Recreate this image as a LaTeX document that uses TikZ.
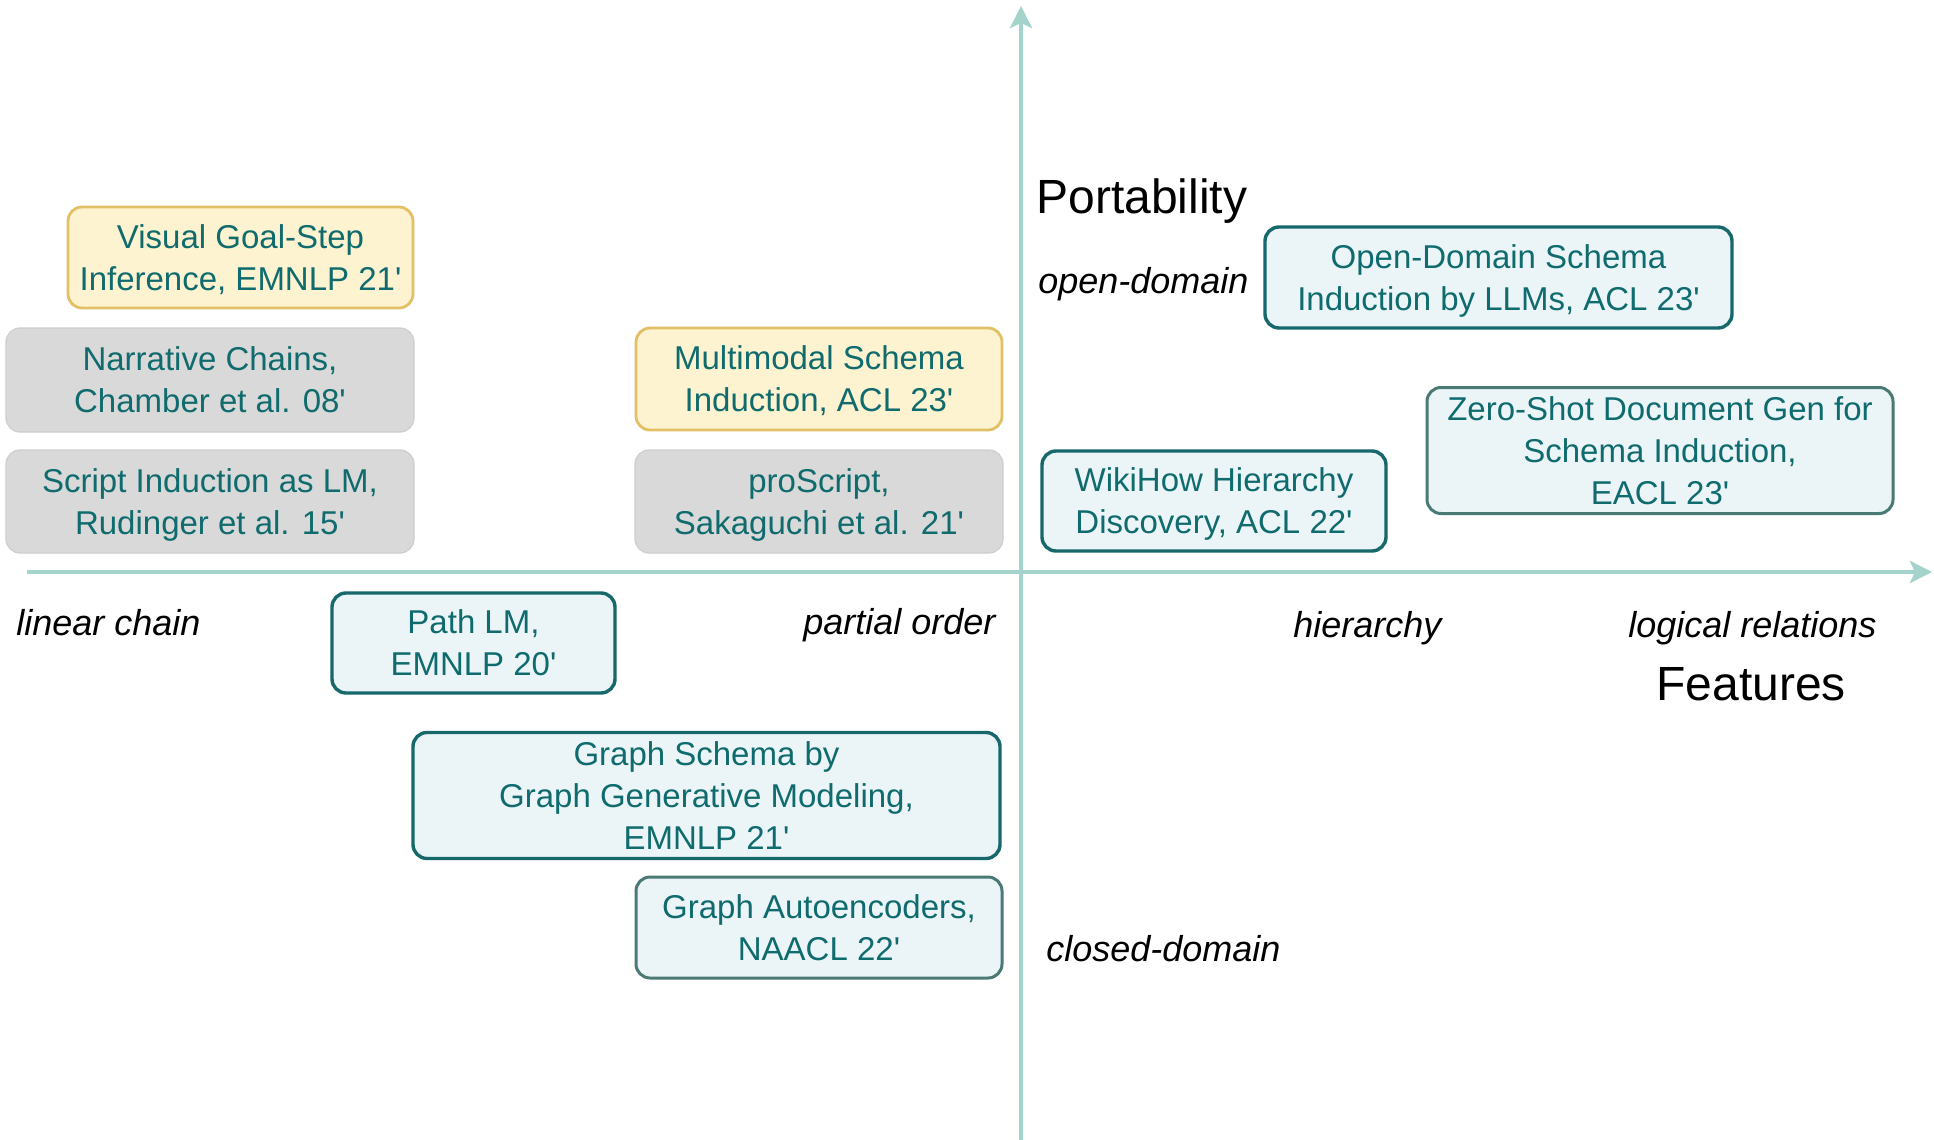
\documentclass[tikz,border=0pt]{standalone}
\usepackage{fontspec}
\setmainfont{Liberation Sans}
\newfontfamily\boxfont{Liberation Sans}
\usetikzlibrary{arrows.meta}
\definecolor{axiscol}{HTML}{A3D3CB}
\definecolor{tealtext}{HTML}{0F6B6D}
\definecolor{tealborder}{HTML}{17686B}
\definecolor{grayborder}{HTML}{4A7A73}
\definecolor{bluefill}{HTML}{EBF5F8}
\definecolor{yellowfill}{HTML}{FDF3D0}
\definecolor{yellowborder}{HTML}{E3C065}
\definecolor{grayfill}{HTML}{D9D9D9}
\newcommand\boxtext[1]{\raisebox{-1.6pt}[\height][\depth]{\begin{tabular}{@{}c@{}}#1\end{tabular}}}
\tikzset{
  basebox/.style={rounded corners=7pt, inner sep=0pt, text=tealtext,
    font=\boxfont\fontsize{16.5}{21}\selectfont},
  bluebox/.style={basebox, draw=tealborder, line width=1.7pt, fill=bluefill},
  dullbox/.style={basebox, draw=grayborder, line width=1.5pt, fill=bluefill},
  yellowbox/.style={basebox, draw=yellowborder, line width=1.4pt, fill=yellowfill},
  graybox/.style={basebox, draw=grayfill!95!black, line width=0.6pt, fill=grayfill},
  axis/.style={draw=axiscol, line width=2pt, -{Stealth[length=11pt,width=11pt,inset=2.5pt]}},
  ilabel/.style={font=\fontsize{18}{20}\selectfont\itshape, inner sep=0pt, anchor=west},
  tlabel/.style={font=\fontsize{24}{26}\selectfont, inner sep=0pt, anchor=west}
}
\begin{document}
\begin{tikzpicture}[x=0.5pt,y=-0.5pt]
\fill[white] (0,0) rectangle (1934,1140);
\useasboundingbox (0,0) rectangle (1934,1140);

% axes
\coordinate (ybot) at (1021,1140);
\coordinate (ytop) at (1021,6);
\coordinate (xleft) at (27,572);
\coordinate (xright) at (1932,572);
\draw[axis] (ybot) -- (ytop);
\draw[axis] (xleft) -- (xright);

% axis labels
\node[tlabel] (port) at (1036,201) {Portability};
\node[ilabel] (open) at (1038,284) {open-domain};
\node[ilabel] (closed) at (1046,949) {closed-domain};
\node[ilabel] (lin) at (16,623) {linear chain};
\node[ilabel] (part) at (803,625) {partial order};
\node[ilabel] (hier) at (1293,628) {hierarchy};
\node[ilabel] (logic) at (1628,628) {logical relations};
\node[tlabel] (feat) at (1656,684) {Features};

% boxes
\node[yellowbox, minimum width=172.5pt, minimum height=50.5pt] (vis) at (240.5,257.5)
  {\boxtext{Visual Goal-Step\\Inference, EMNLP 21'}};
\node[graybox, minimum width=204pt, minimum height=52pt] (nar) at (210,380)
  {\boxtext{Narrative Chains,\\Chamber et al. 08'}};
\node[graybox, minimum width=204pt, minimum height=51.5pt] (scr) at (210,501.5)
  {\boxtext{Script Induction as LM,\\Rudinger et al. 15'}};
\node[yellowbox, minimum width=183pt, minimum height=51pt] (mm) at (819,379)
  {\boxtext{Multimodal Schema\\Induction, ACL 23'}};
\node[graybox, minimum width=184pt, minimum height=51.5pt] (pro) at (819,501.5)
  {\boxtext{proScript,\\Sakaguchi et al. 21'}};
\node[bluebox, minimum width=233.5pt, minimum height=50.5pt] (od) at (1498.5,277.5)
  {\boxtext{Open-Domain Schema\\Induction by LLMs, ACL 23'}};
\node[dullbox, minimum width=233pt, minimum height=60.5pt] (zs) at (1660,450.5)
  {\boxtext{Zero-Shot Document Gen for\\Schema Induction,\\EACL 23'}};
\node[bluebox, minimum width=172pt, minimum height=50pt] (wh) at (1214,501)
  {\boxtext{WikiHow Hierarchy\\Discovery, ACL 22'}};
\node[bluebox, minimum width=141.5pt, minimum height=50pt] (path) at (473.5,643)
  {\boxtext{Path LM,\\EMNLP 20'}};
\node[bluebox, minimum width=293.5pt, minimum height=60.5pt] (gs) at (706.5,795.5)
  {\boxtext{Graph Schema by\\Graph Generative Modeling,\\EMNLP 21'}};
\node[dullbox, minimum width=183pt, minimum height=50.5pt] (ga) at (819,927.5)
  {\boxtext{Graph Autoencoders,\\NAACL 22'}};
\end{tikzpicture}
\end{document}
